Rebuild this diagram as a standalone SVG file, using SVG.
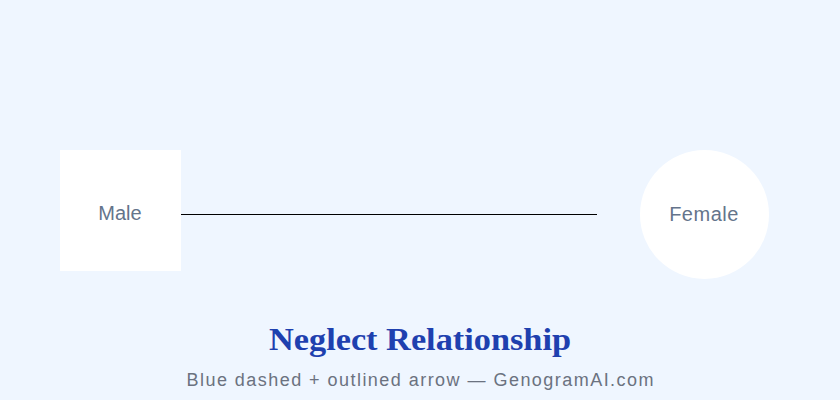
<svg xmlns="http://www.w3.org/2000/svg" width="840" height="400" viewBox="0 0 840 400">
<style>
.lbl{font-family:"Liberation Sans",Arial,sans-serif;font-size:20px;fill:#64748b;text-anchor:middle}
.node{fill:#ffffff}
</style>
<rect width="840" height="400" fill="#eff6ff"/>
<g id="connectors">
<line x1="180" y1="214.5" x2="597" y2="214.5" stroke="#000000" stroke-width="1"/>
</g>
<g id="male">
<rect class="node" x="60" y="150" width="121" height="121"/>
<text class="lbl" x="120" y="220">Male</text>
</g>
<g id="female">
<circle class="node" cx="704.5" cy="214.5" r="64.5"/>
<text class="lbl" x="704" y="221" letter-spacing="0.5">Female</text>
</g>
<text x="420" y="350" text-anchor="middle" font-family="Georgia,'Liberation Serif',serif" font-weight="bold" font-size="32" textLength="302" lengthAdjust="spacingAndGlyphs" fill="#1e40af">Neglect Relationship</text>
<text x="420" y="386" text-anchor="middle" font-family="'Liberation Sans',Arial,sans-serif" font-size="18" textLength="467" lengthAdjust="spacing" fill="#6b7280">Blue dashed + outlined arrow — GenogramAI.com</text>
</svg>
